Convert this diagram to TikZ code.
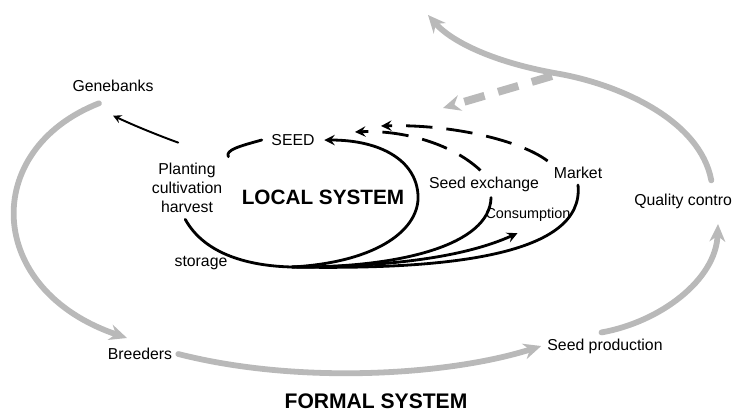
\documentclass[tikz,border=0pt]{standalone}
\usepackage{fontspec}
\setmainfont{Liberation Sans}
\usetikzlibrary{arrows.meta}
\begin{document}
\begin{tikzpicture}[x=0.02cm,y=-0.02cm,font=\fontsize{9}{11}\selectfont,line join=round,line cap=round,>=stealth,
	loc/.style={line width=1.6pt},
	dsh/.style={loc,dash pattern=on 15pt off 8pt,line cap=butt},
	frm/.style={line width=3.3pt,draw=gray!55,-{Stealth[length=10pt,width=9pt,fill=gray!55]}}]
	\useasboundingbox (0,0) rectangle (733,414);
	% labels
	\node (gene) at (113,86) {Genebanks};
	\node (seed) at (293,140) {SEED};
	\node[align=center] (plant) at (187,188) {Planting\\cultivation\\harvest};
	\node (local) at (323,197) {\fontsize{11.8}{13}\selectfont\bfseries LOCAL SYSTEM};
	\node (stor) at (201,263) {storage};
	\node (exch) at (484,184) {Seed exchange};
	\node (mark) at (578,173) {Market};
	\node (cons) at (528,215) {\fontsize{8.2}{10}\selectfont Consumption};
	\node[anchor=west,inner xsep=0pt] (qual) at (634,201) {Quality contro};
	\node (breed) at (140,354) {Breeders};
	\node (prod) at (605,346) {Seed production};
	\node[inner sep=0pt] (formal) at (376,401) {\fontsize{12}{14}\selectfont\bfseries FORMAL SYSTEM};
	\coordinate (root) at (292,267);
	% local system
	\draw[loc] ([xshift=-2pt]seed.west) .. controls (240,146) and (225,150) .. (plant.north east);
	\draw[loc,->] ([xshift=-1pt]plant.south) .. controls (205,255) and (250,266) .. (root) .. controls (380,262) and (420,228) .. (418,195) .. controls (416,160) and (380,140) .. ([xshift=2pt]seed.east);
	\draw[loc] (root) .. controls (400,268) and (490,245) .. ([xshift=4pt]exch.south);
	\draw[loc,->] (root) .. controls (420,267) and (480,250) .. ([shift={(-6pt,-3pt)}]cons.south);
	\draw[loc] (root) .. controls (450,270) and (585,255) .. (mark.south);
	\draw[dsh,->] ([xshift=-2pt]exch.north) .. controls (450,142) and (400,130) .. (355,132);
	\draw[dsh,->] (mark.north west) .. controls (520,140) and (450,124) .. (381,126);
	\draw[loc,line width=1.1pt,->] ([shift={(-5pt,8pt)}]plant.north) .. controls (160,136) and (135,126) .. ([yshift=-10pt]gene.south);
	% formal system
	\draw[frm] ([shift={(-8pt,-3pt)}]gene.south) .. controls (-20,150) and (-15,290) .. (127,338);
	\draw[frm] (breed.east) .. controls (300,385) and (450,375) .. (prod.west);
	\draw[frm] ([xshift=-2pt]prod.north) .. controls (660,322) and (716,280) .. (718,224);
	\draw[frm] ([xshift=44pt,yshift=4pt]qual.north west) .. controls (700,120) and (620,85) .. (560,74) .. controls (490,62) and (450,40) .. (428,15);
	\draw[frm,line width=4.5pt,dash pattern=on 12pt off 8pt,line cap=butt] (552,76) -- (443,108);
\end{tikzpicture}
\end{document}
